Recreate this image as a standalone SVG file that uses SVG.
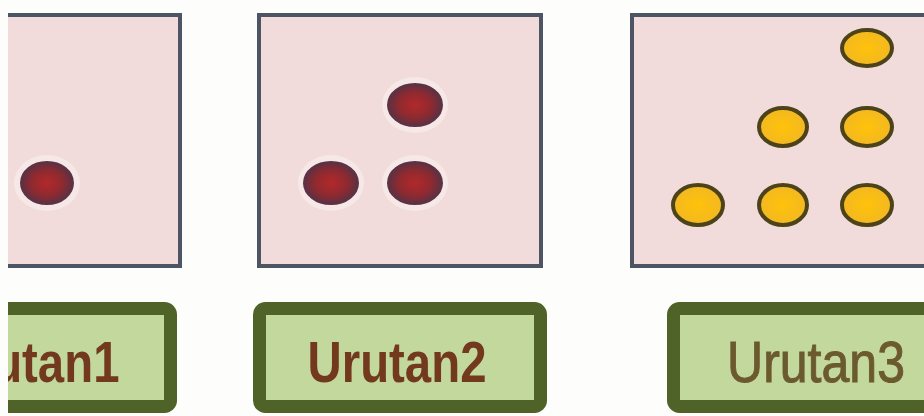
<svg xmlns="http://www.w3.org/2000/svg" width="924" height="416" viewBox="0 0 924 416">
<style>
.panel{fill:#f2dcdb;stroke:#4d5564;stroke-width:4}
.label{fill:#c3d89c;stroke:#4f6228;stroke-width:13}
.red{fill:url(#rg);stroke:#5a3446;stroke-width:2}
.halo{fill:#ffffff;opacity:0.35}
.yel{fill:url(#yg);stroke:#4d4318;stroke-width:4}
.t{font-family:"Liberation Sans",Arial,sans-serif;font-size:58px;text-anchor:middle}
.tb{font-weight:bold;fill:#73391f}
.tn{font-weight:normal;fill:#6b5a2f;stroke:#6b5a2f;stroke-width:1}
</style>
<defs>
<radialGradient id="rg" cx="0.5" cy="0.5" r="0.5">
<stop offset="0" stop-color="#b3282a"/>
<stop offset="0.6" stop-color="#8e2a30"/>
<stop offset="1" stop-color="#5e3042"/>
</radialGradient>
<radialGradient id="yg" cx="0.5" cy="0.5" r="0.5">
<stop offset="0" stop-color="#ffc20a"/>
<stop offset="1" stop-color="#f2b822"/>
</radialGradient>
<clipPath id="crop"><rect x="8" y="0" width="916" height="416"/></clipPath>
</defs>
<rect width="924" height="416" fill="#fdfdfb"/>
<g clip-path="url(#crop)">
<g id="panel1">
<rect class="panel" x="-102" y="15" width="282" height="251"/>
<ellipse class="halo" cx="47" cy="183" rx="33" ry="28"/>
<ellipse class="red" cx="47" cy="183" rx="26" ry="21"/>
</g>
<g id="panel2">
<rect class="panel" x="259" y="15" width="282" height="251"/>
<ellipse class="halo" cx="415" cy="105" rx="33" ry="28"/>
<ellipse class="halo" cx="331" cy="183" rx="33" ry="28"/>
<ellipse class="halo" cx="415" cy="183" rx="33" ry="28"/>
<ellipse class="red" cx="415" cy="105" rx="27" ry="21"/>
<ellipse class="red" cx="331" cy="183" rx="27" ry="21"/>
<ellipse class="red" cx="415" cy="183" rx="27" ry="21"/>
</g>
<g id="panel3">
<rect class="panel" x="632" y="15" width="320" height="251"/>
<ellipse class="yel" cx="867" cy="48" rx="25" ry="18"/>
<ellipse class="yel" cx="783" cy="127" rx="24" ry="19"/>
<ellipse class="yel" cx="867" cy="127" rx="25" ry="19"/>
<ellipse class="yel" cx="698" cy="205" rx="25" ry="20"/>
<ellipse class="yel" cx="783" cy="205" rx="24" ry="20"/>
<ellipse class="yel" cx="867" cy="205" rx="25" ry="20"/>
</g>
<g id="label1">
<rect class="label" x="-110.5" y="308.5" width="281" height="98" rx="6"/>
<text class="t tb" x="30" y="382" textLength="179" lengthAdjust="spacingAndGlyphs">Urutan1</text>
</g>
<g id="label2">
<rect class="label" x="259.5" y="308.5" width="281" height="98" rx="6"/>
<text class="t tb" x="397" y="382" textLength="179" lengthAdjust="spacingAndGlyphs">Urutan2</text>
</g>
<g id="label3">
<rect class="label" x="673.5" y="308.5" width="281" height="98" rx="6"/>
<text class="t tn" x="816" y="382" textLength="178" lengthAdjust="spacingAndGlyphs">Urutan3</text>
</g>
</g>
<g id="connectors"/>
</svg>
